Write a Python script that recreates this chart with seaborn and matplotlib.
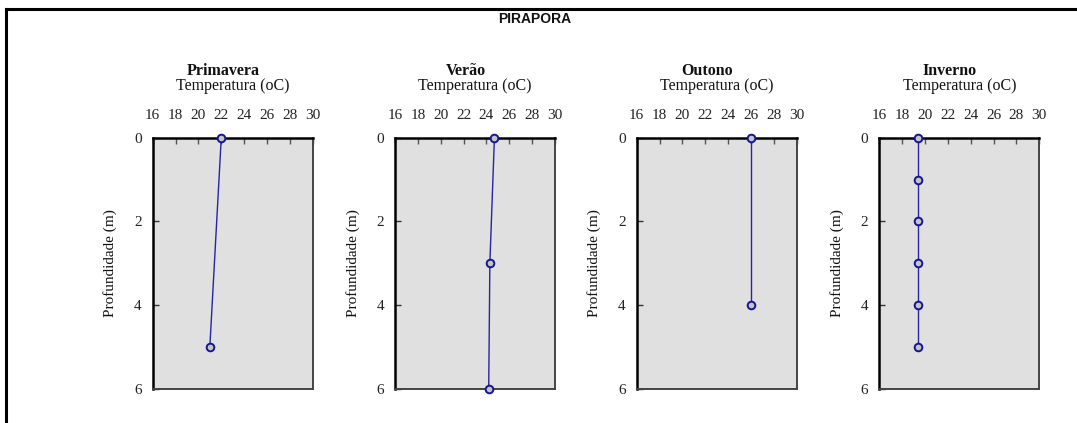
import matplotlib
matplotlib.use("Agg")
import matplotlib.pyplot as plt
from matplotlib.lines import Line2D
import seaborn as sns
import pandas as pd

# Temperature profiles (oC) by depth (m) at Pirapora, per season
seasons = ["Primavera", "Verão", "Outono", "Inverno"]
depth_primavera = [0, 5]
temp_primavera = [22.0, 21.0]
depth_verao = [0, 3, 6]
temp_verao = [24.7, 24.3, 24.2]
depth_outono = [0, 4]
temp_outono = [26.0, 26.0]
depth_inverno = [0, 1, 2, 3, 4, 5]
temp_inverno = [19.4, 19.4, 19.4, 19.4, 19.4, 19.4]
temp_ticks = [16, 18, 20, 22, 24, 26, 28, 30]
depth_ticks = [0, 2, 4, 6]

profiles = [
    (depth_primavera, temp_primavera),
    (depth_verao, temp_verao),
    (depth_outono, temp_outono),
    (depth_inverno, temp_inverno),
]

sns.set_theme(style="white")
plt.rcParams["font.family"] = ["Liberation Serif", "DejaVu Serif"]

W, H = 1077, 423
fig = plt.figure(figsize=(W / 100, H / 100), dpi=100)

ax_lefts = [152.7, 395.0, 636.7, 879.3]
ax_w, ax_top, ax_bot = 160.0, 137.7, 388.7

line_blue = "#2424a4"
edge_blue = "#141494"
for name, (depths, temps), left in zip(seasons, profiles, ax_lefts):
    ax = fig.add_axes([left / W, 1 - ax_bot / H, ax_w / W, (ax_bot - ax_top) / H])
    ax.set_facecolor("#e0e0e0")
    df = pd.DataFrame({"Temperatura": temps, "Profundidade": depths})
    # each profile is drawn point by point in depth order, no aggregation
    sns.lineplot(data=df, x="Temperatura", y="Profundidade", sort=False,
                 estimator=None, errorbar=None,
                 color=line_blue, linewidth=1.0, marker="o", markersize=5.5,
                 markerfacecolor="#c4c4c4", markeredgecolor=edge_blue,
                 markeredgewidth=1.4, ax=ax, clip_on=False, zorder=5)
    ax.set_xlim(16, 30)
    ax.set_ylim(6, 0)
    ax.set_xticks(temp_ticks)
    ax.set_yticks(depth_ticks)
    ax.xaxis.tick_top()
    ax.xaxis.set_label_position("top")
    ax.tick_params(axis="x", which="both", direction="in", length=4,
                   width=1.0, color="#555555", pad=11, labelsize=11,
                   labelcolor="#222222", top=True, bottom=False)
    ax.tick_params(axis="y", which="both", direction="in", length=4,
                   width=1.0, color="#333333", pad=8, labelsize=11,
                   labelcolor="#222222", left=True, right=False)
    ax.set_xlabel("Temperatura (oC)", fontsize=11.5, labelpad=14, color="#111111")
    ax.set_ylabel("Profundidade (m)", fontsize=11, labelpad=12, color="#111111")
    for side in ("left", "top"):
        ax.spines[side].set_color("black")
        ax.spines[side].set_linewidth(1.8)
    for side in ("right", "bottom"):
        ax.spines[side].set_color("#444444")
        ax.spines[side].set_linewidth(1.4)
    ax.text(0.44, 1 + (ax_top - 75) / (ax_bot - ax_top), name,
            transform=ax.transAxes, ha="center", va="baseline",
            fontsize=11.5, fontweight="bold", color="#111111")

fig.text(535 / W, 1 - 23 / H, "PIRAPORA", ha="center", va="baseline",
         fontsize=10, fontweight="bold", family="Liberation Sans", color="#111111")

# Outer frame along the left and top edges
fig.add_artist(Line2D([6 / W, 6 / W], [0, 1 - 9 / H], transform=fig.transFigure,
                      color="black", linewidth=2.2, solid_capstyle="projecting"))
fig.add_artist(Line2D([6 / W, 1], [1 - 9 / H, 1 - 9 / H], transform=fig.transFigure,
                      color="black", linewidth=2.2, solid_capstyle="projecting"))

fig.savefig("out.png", dpi=100, facecolor="white")
